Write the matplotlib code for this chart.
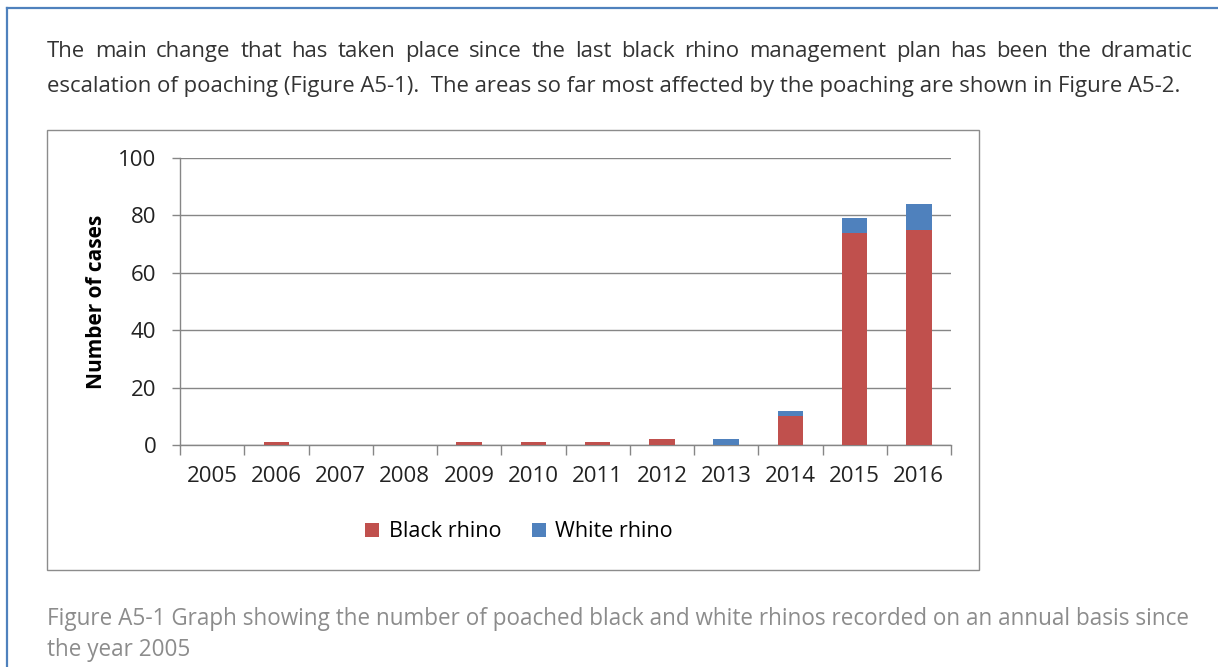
import numpy as np
import matplotlib.pyplot as plt
from matplotlib.patches import Rectangle
from matplotlib.lines import Line2D

years = ["2005", "2006", "2007", "2008", "2009", "2010",
         "2011", "2012", "2013", "2014", "2015", "2016"]
black_rhino = [0, 1, 0, 0, 1, 1, 1, 2, 0, 10, 74, 75]
white_rhino = [0, 0, 0, 0, 0, 0, 0, 0, 2, 2, 5, 9]
y_ticks = [0, 20, 40, 60, 80, 100]

para_line1 = ("The main change that has taken place since the last black rhino "
              "management plan has been the dramatic")
para_line2 = ("escalation of poaching (Figure A5-1).  The areas so far most affected "
              "by the poaching are shown in Figure A5-2.")
caption1 = ("Figure A5-1 Graph showing the number of poached black and white rhinos "
            "recorded on an annual basis since")
caption2 = "the year 2005"

RED = "#C0504D"
BLUE = "#4F81BD"
GRID = "#868686"
FONT = "Open Sans"
TICK_FS = 16
LEG_FS = 15.5

W, H = 1218, 667
fig = plt.figure(figsize=(W / 100, H / 100), dpi=100)
renderer = fig.canvas.get_renderer()


def px(x, y):
    # pixel coords (top-left origin) -> figure fraction
    return x / W, 1 - y / H


def fit_size(s, width, family, size=13):
    # font size that makes string s about `width` pixels wide
    t = fig.text(0, 0, s, fontsize=size, family=family)
    w = t.get_window_extent(renderer).width
    t.remove()
    return size * width / w


# page border (blue, runs off the right/bottom)
fig.add_artist(Line2D([7 / W, 1.0], [1 - 8 / H] * 2, color=BLUE, lw=1.6))
fig.add_artist(Line2D([7 / W] * 2, [0, 1 - 8 / H], color=BLUE, lw=1.6))

# paragraph, first line justified
pfs = fit_size(para_line2, 1126, FONT)
words = para_line1.split()
x0, x1 = 47, 1193
texts = []
total = 0
for w in words:
    t = fig.text(0, 0, w, fontsize=pfs, family=FONT, color="#333333", va="baseline")
    wd = t.get_window_extent(renderer).width
    texts.append((t, wd))
    total += wd
gap = (x1 - x0 - total) / (len(words) - 1)
cx = x0
for t, wd in texts:
    t.set_position(px(cx, 57))
    cx += wd + gap

fig.text(*px(47, 92), para_line2, fontsize=pfs, family=FONT, color="#333333", va="baseline")

# chart frame
fig.add_artist(Rectangle(px(47, 570), 932 / W, 440 / H, fill=False,
                         edgecolor="#8c8c8c", lw=1.0))

ax = fig.add_axes([180 / W, 1 - 445 / H, 771 / W, 287 / H])
x = np.arange(len(years))
ax.bar(x, black_rhino, width=0.4, color=RED, label="Black rhino", zorder=3)
ax.bar(x, white_rhino, width=0.4, bottom=black_rhino, color=BLUE,
       label="White rhino", zorder=3)

ax.set_xlim(-0.5, len(years) - 0.5)
ax.set_ylim(0, 100)
ax.set_yticks(y_ticks)
ax.set_yticklabels([str(v) for v in y_ticks], fontsize=TICK_FS, family=FONT, color="#222222")
ax.yaxis.grid(True, color=GRID, lw=1.0, zorder=0)
ax.set_axisbelow(True)

# year labels centred, ticks on category boundaries
ax.set_xticks(x)
ax.set_xticklabels(years, fontsize=TICK_FS, family=FONT, color="#222222")
ax.tick_params(axis="x", which="major", length=0, pad=15)
ax.set_xticks(np.arange(-0.5, len(years)), minor=True)
ax.tick_params(axis="x", which="minor", length=7, color=GRID, width=1.0)
ax.tick_params(axis="y", length=6, color=GRID, width=1.0, pad=11)

for s in ["top", "right"]:
    ax.spines[s].set_visible(False)
for s in ["left", "bottom"]:
    ax.spines[s].set_color(GRID)
    ax.spines[s].set_linewidth(1.0)

ax.set_ylabel("Number of cases", fontsize=15, family=FONT, fontweight="bold",
              labelpad=8)

ax.legend(loc="center", bbox_to_anchor=(0.44, -0.303), ncol=2, frameon=False,
          prop={"family": FONT, "size": LEG_FS}, handlelength=0.65, handleheight=0.65,
          handletextpad=0.45, columnspacing=1.4)

cfs = fit_size(caption1, 1138, FONT)
fig.text(*px(47, 625), caption1, fontsize=cfs, family=FONT,
         color="#8c8c8c", va="baseline")
fig.text(*px(47, 656), caption2, fontsize=cfs, family=FONT,
         color="#8c8c8c", va="baseline")

fig.savefig("out.png", dpi=100, facecolor="white")
